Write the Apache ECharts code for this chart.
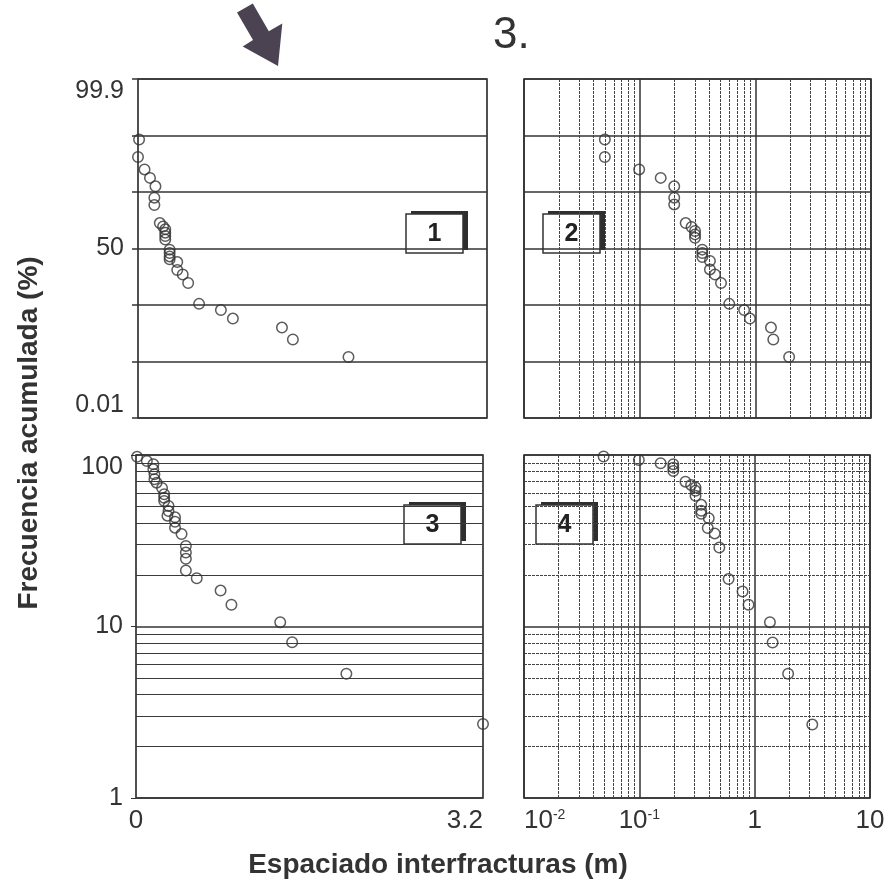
<!DOCTYPE html>
<html><head><meta charset="utf-8">
<script src="https://cdn.jsdelivr.net/npm/echarts@6/dist/echarts.min.js"></script>
<style>html,body{margin:0;padding:0;background:#fff}#c{width:890px;height:890px}</style>
</head><body><div id="c"></div>
<script>
// ---- data ----
// Panel 1: linear spacing (m) vs cumulative frequency on probability paper (units: 0 = 50 %)
const p1Spacing = [0.01,0.00,0.06,0.11,0.16,0.15,0.15,0.20,0.23,0.25,0.25,0.25,0.25,0.29,0.29,0.29,0.29,0.36,0.36,0.41,0.46,0.56,0.76,0.87,1.32,1.42,1.93];
const p1Prob    = [1.93,1.62,1.40,1.25,1.10,0.90,0.77,0.45,0.39,0.34,0.28,0.22,0.16,-0.02,-0.08,-0.14,-0.19,-0.24,-0.38,-0.46,-0.61,-0.98,-1.09,-1.24,-1.40,-1.61,-1.92];
// Panel 2: log spacing vs probability paper
const p2Spacing = [0.050,0.050,0.099,0.152,0.199,0.199,0.199,0.250,0.281,0.301,0.301,0.301,0.348,0.348,0.348,0.405,0.405,0.448,0.505,0.595,0.80,0.898,1.365,1.43,1.96];
const p2Prob    = [1.93,1.62,1.40,1.25,1.10,0.90,0.78,0.45,0.38,0.31,0.25,0.19,-0.02,-0.08,-0.15,-0.22,-0.37,-0.46,-0.61,-0.98,-1.09,-1.24,-1.40,-1.61,-1.92];
// Panel 3: linear spacing vs log cumulative frequency (%)
const p3Spacing = [0.01,0.10,0.16,0.16,0.17,0.17,0.19,0.24,0.26,0.26,0.26,0.30,0.30,0.29,0.36,0.36,0.36,0.42,0.46,0.46,0.46,0.46,0.56,0.78,0.88,1.33,1.44,1.94,3.20];
const p3Freq    = [97.6,92.3,88.3,82.5,77.1,72.2,69.0,64.2,59.0,56.3,53.9,50.5,47.1,44.3,43.3,40.8,37.7,34.6,29.5,27.0,24.8,21.2,19.1,16.2,13.4,10.6,8.1,5.3,2.7];
// Panel 4: log spacing vs log cumulative frequency (%)
const p4Spacing = [0.049,0.099,0.153,0.197,0.197,0.197,0.251,0.281,0.307,0.307,0.307,0.344,0.344,0.344,0.400,0.392,0.450,0.494,0.594,0.785,0.885,1.356,1.43,1.95,3.16];
const p4Freq    = [98,93.5,89.5,88.3,84.4,80.7,69.9,66.9,64.6,61.8,57.8,51.2,47.3,45.4,42.8,37.5,34.9,28.9,18.9,16.0,13.4,10.6,8.07,5.3,2.68];

// ---- tick labels ----
const probTicks = [-3, 0, 3];
const probTickLabels = ['0.01', '50', '99.9'];
const linTicks = [0, 3.2];
const linTickLabels = ['0', '3.2'];
const logXTickLabels = ['10^-2', '10^-1', '1', '10'];   // 0.01 .. 10
const logYTickLabels = ['1', '10', '100'];              // 1 .. 100
const minorLogX = [0.02,0.03,0.04,0.05,0.06,0.07,0.08,0.09,0.2,0.3,0.4,0.5,0.6,0.7,0.8,0.9,2,3,4,5,6,7,8,9];
const minorLogY = [2,3,4,5,6,7,8,9,20,30,40,50,60,70,80,90];

const ink = '#333';
const narrow = '"Liberation Sans Narrow","Arial Narrow","Liberation Sans",sans-serif';
const sans = '"Liberation Sans",Arial,sans-serif';

function zip(a, b) { return a.map((v, i) => [v, b[i]]); }
function logLabel(s) {
  const p = s.split('^');
  return p.length > 1 ? '{b|' + p[0] + '}{sup|' + p[1] + '}' : '{b|' + s + '}';
}
const richX = {
  b: { fontSize: 26, fontFamily: narrow, color: ink },
  sup: { fontSize: 14, fontFamily: narrow, color: ink, verticalAlign: 'top', padding: [0, 0, 10, 0] }
};

const markerStyle = { color: 'rgba(255,255,255,0)', borderColor: '#333', borderWidth: 1.5 };
function scatter(idx, data, mark) {
  const s = {
    type: 'scatter', xAxisIndex: idx, yAxisIndex: idx, data: data,
    symbol: 'circle', symbolSize: 10.5, itemStyle: markerStyle, silent: true, z: 5
  };
  if (mark) s.markLine = mark;
  return s;
}
function mlines(list) {
  return { silent: true, symbol: 'none', label: { show: false }, animation: false, z: 1, data: list };
}
const dotted = { color: '#444', width: 1, type: [3, 1] };
const solidMinor = { color: '#3a3a3a', width: 1.2, type: 'solid' };

const p2Minor = minorLogX.map(v => ({ xAxis: v, lineStyle: dotted }));
const p3Minor = minorLogY.map(v => ({ yAxis: v, lineStyle: solidMinor }));
const p4Minor = minorLogX.map(v => ({ xAxis: v, lineStyle: dotted }))
  .concat(minorLogY.map(v => ({ yAxis: v, lineStyle: dotted })));

const gridBase = { show: true, borderColor: ink, borderWidth: 1.7, backgroundColor: 'transparent' };
const majorSplit = { show: true, lineStyle: { color: ink, width: 1.5, type: 'solid' } };

const option = {
  animation: false,
  backgroundColor: '#fff',
  grid: [
    Object.assign({ left: 138, top: 79, width: 349, height: 339 }, gridBase),
    Object.assign({ left: 524, top: 79, width: 347, height: 339 }, gridBase),
    Object.assign({ left: 136, top: 455, width: 347, height: 343 }, gridBase),
    Object.assign({ left: 524, top: 455, width: 346, height: 343 }, gridBase)
  ],
  xAxis: [
    { gridIndex: 0, type: 'value', min: 0, max: 3.2, axisLine: { show: false }, axisTick: { show: false },
      axisLabel: { show: false }, splitLine: { show: false } },
    { gridIndex: 1, type: 'log', logBase: 10, min: 0.01, max: 10, axisLine: { show: false }, axisTick: { show: false },
      axisLabel: { show: false }, splitLine: majorSplit },
    { gridIndex: 2, type: 'value', min: 0, max: 3.2, interval: 3.2, axisLine: { show: false }, axisTick: { show: false },
      splitLine: { show: false },
      axisLabel: { show: true, margin: 10, fontSize: 26, fontFamily: narrow, color: ink, alignMaxLabel: 'right',
        formatter: v => { const i = linTicks.findIndex(t => Math.abs(t - v) < 1e-6); return i >= 0 ? linTickLabels[i] : ''; } } },
    { gridIndex: 3, type: 'log', logBase: 10, min: 0.01, max: 10, axisLine: { show: false }, axisTick: { show: false },
      splitLine: majorSplit,
      axisLabel: { show: true, margin: 10, rich: richX, alignMinLabel: 'left',
        formatter: v => { const i = Math.round(Math.log10(v)) + 2; return logXTickLabels[i] ? logLabel(logXTickLabels[i]) : ''; } } }
  ],
  yAxis: [
    { gridIndex: 0, type: 'value', min: -3, max: 3, interval: 1, axisLine: { show: false },
      axisTick: { show: true, length: 6, lineStyle: { color: ink, width: 1.5 } },
      splitLine: majorSplit,
      axisLabel: { show: true, margin: 14, fontSize: 25, fontFamily: sans, color: ink,
        verticalAlignMaxLabel: 'top', verticalAlignMinLabel: 'bottom',
        formatter: v => { const i = probTicks.indexOf(Math.round(v)); return i >= 0 ? probTickLabels[i] : ''; } } },
    { gridIndex: 1, type: 'value', min: -3, max: 3, interval: 1, axisLine: { show: false }, axisTick: { show: false },
      splitLine: majorSplit, axisLabel: { show: false } },
    { gridIndex: 2, type: 'log', logBase: 10, min: 1, max: 100, axisLine: { show: false },
      axisTick: { show: true, length: 5, lineStyle: { color: ink } },
      splitLine: majorSplit,
      axisLabel: { show: true, margin: 13, fontSize: 25, fontFamily: sans, color: ink, verticalAlignMaxLabel: 'top',
        formatter: v => { const i = Math.round(Math.log10(v)); return logYTickLabels[i] || ''; } } },
    { gridIndex: 3, type: 'log', logBase: 10, min: 1, max: 100, axisLine: { show: false }, axisTick: { show: false },
      splitLine: majorSplit, axisLabel: { show: false } }
  ],
  series: [
    scatter(0, zip(p1Spacing, p1Prob)),
    scatter(1, zip(p2Spacing, p2Prob), mlines(p2Minor)),
    scatter(2, zip(p3Spacing, p3Freq), mlines(p3Minor)),
    scatter(3, zip(p4Spacing, p4Freq), mlines(p4Minor))
  ],
  graphic: [
    // arrow
    { type: 'polygon', shape: { points: [[237,12.5],[253,40],[242.7,46.5],[278,66],[282.3,23.5],[268.8,31.2],[252.8,3.5]] },
      style: { fill: '#4b4352' } },
    // figure number
    { type: 'text', left: 493, top: 14, style: { text: '3.', font: '44px "Liberation Sans", Arial, sans-serif', fill: ink } },
    // axis titles
    { type: 'text', x: 29, y: 433, rotation: Math.PI / 2,
      style: { text: 'Frecuencia acumulada (%)', font: 'bold 28px "Liberation Sans", Arial, sans-serif', fill: ink, align: 'center', verticalAlign: 'middle' } },
    { type: 'text', x: 438, y: 865,
      style: { text: 'Espaciado interfracturas (m)', font: 'bold 28px "Liberation Sans", Arial, sans-serif', fill: ink, align: 'center', verticalAlign: 'middle' } }
  ]
};

// panel number boxes
const boxes = [[406, 214, '1'], [543, 214, '2'], [404, 505, '3'], [536, 505, '4']];
boxes.forEach(b => {
  option.graphic.push({ type: 'group', x: b[0], y: b[1], z: 10, children: [
    { type: 'rect', shape: { x: 5, y: -3, width: 57, height: 39 }, style: { fill: '#2e2e2e' } },
    { type: 'rect', shape: { x: 0, y: 0, width: 57, height: 39 }, style: { fill: '#fff', stroke: ink, lineWidth: 1.5 } },
    { type: 'text', x: 28.5, y: 20, style: { text: b[2], font: 'bold 25px "Liberation Sans Narrow", "Arial Narrow", "Liberation Sans", sans-serif', fill: '#222', align: 'center', verticalAlign: 'middle' } }
  ] });
});

const chart = echarts.init(document.getElementById('c'), null, { renderer: 'canvas' });
chart.setOption(option);
</script>
</body></html>
